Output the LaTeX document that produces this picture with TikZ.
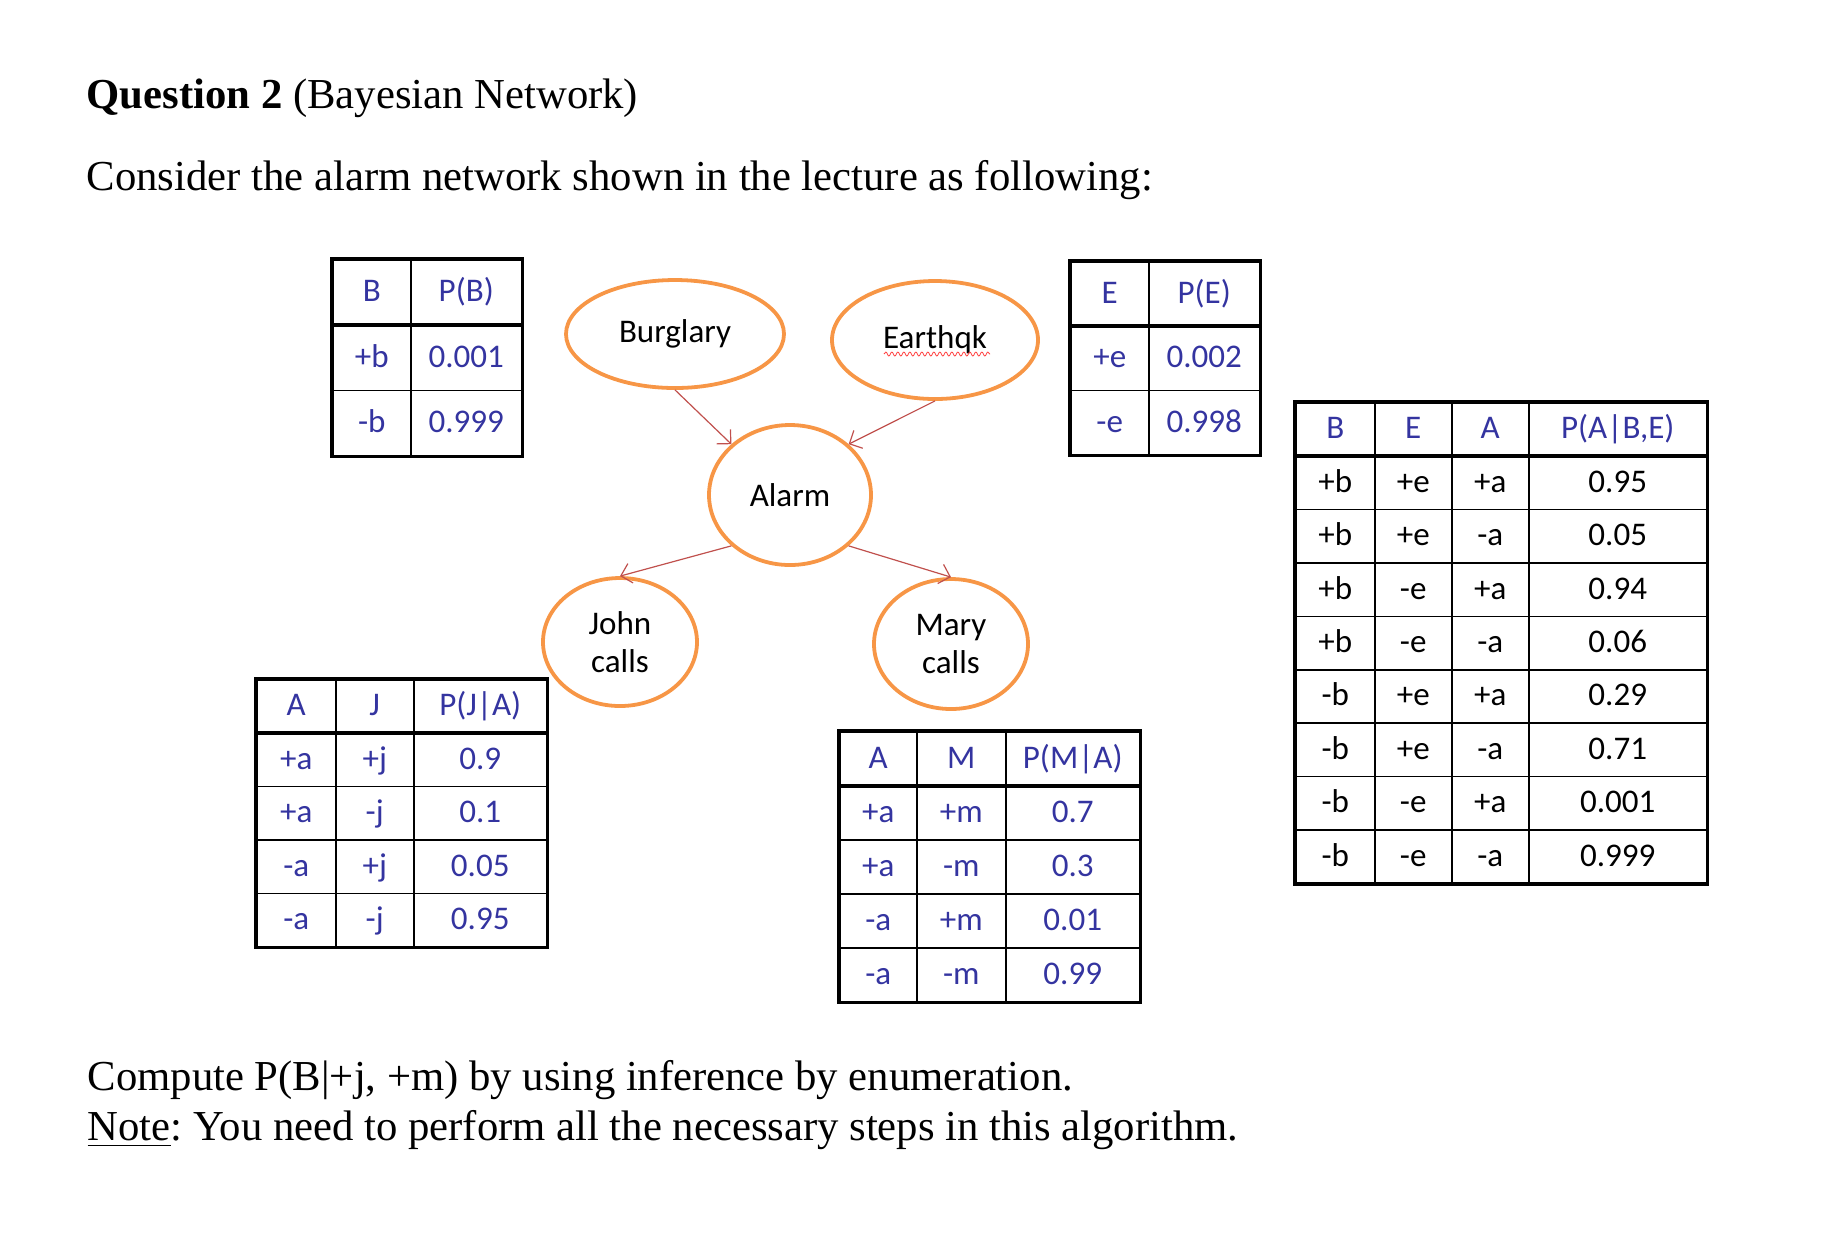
\documentclass[tikz,border=0pt]{standalone}
\usepackage{fontspec}
\setmainfont{Liberation Serif}
\newfontfamily\cellfont{Carlito}
\usetikzlibrary{matrix,shapes.geometric,arrows.meta,decorations.pathmorphing}

\definecolor{cptblue}{RGB}{52,52,160}
\definecolor{varorange}{RGB}{247,150,70}
\definecolor{depred}{RGB}{192,80,77}

\tikzset{
  cpt/.style={matrix of nodes,anchor=north west,inner sep=0pt,outer sep=0pt,
    column sep=-0.15mm,row sep=-0.15mm,
    nodes={draw,line width=0.15mm,inner sep=0pt,outer sep=0pt,minimum height=#1,
      text height=2.4mm,text depth=0.5mm,text=cptblue,
      font=\cellfont\fontsize{9.4}{11}\selectfont}},
  border/.style={line width=0.35mm},
  var/.style={ellipse,draw=varorange,line width=0.38mm,align=center,inner sep=0pt,
    font=\cellfont\fontsize{9.4}{11}\selectfont},
  dep/.style={draw=depred,line width=0.12mm,-{Straight Barb[length=1mm,width=2mm]}},
  spellwave/.style={draw=red!75,line width=0.08mm,decorate,
    decoration={snake,amplitude=0.2mm,segment length=0.6mm}},
  prose/.style={anchor=base west,inner sep=0pt,font=\fontsize{12.15}{14}\selectfont\frenchspacing}
}

\begin{document}
\begin{tikzpicture}[x=0.1mm,y=-0.1mm]
\useasboundingbox (0,0) rectangle (1822,1256);

\node[prose] (title) at (86,108) {\textbf{Question 2} (Bayesian Network)};
\node[prose] (intro) at (86,190) {Consider the alarm network shown in the lecture as following:};

% network
\node[var,minimum width=21.8mm,minimum height=10.8mm] (burglary) at (675,334) {Burglary};
\node[var,minimum width=20.6mm,minimum height=11.8mm] (earthqk) at (935,340) {Earthqk};
\node[var,minimum width=16.2mm,minimum height=14mm] (alarm) at (790,495) {Alarm};
\node[var,minimum width=15.4mm,minimum height=12.8mm] (john) at (620,642) {John\\calls};
\node[var,minimum width=15.4mm,minimum height=13mm] (mary) at (951,644) {Mary\\calls};
\draw[spellwave] (884,354) -- (990,354);

\draw[dep] (burglary.south) -- (alarm.north west);
\draw[dep] (earthqk.south) -- (alarm.north east);
\draw[dep] (alarm.south west) -- (john.north);
\draw[dep] (alarm.south east) -- (mary.north);

% tables
\matrix (bcpt) [cpt=6.53mm,
  column 1/.style={nodes={minimum width=7.8mm}},
  column 2/.style={nodes={minimum width=11.1mm}}] at (332,259) {
  B & P(B) \\
  +b & 0.001 \\
  -b & 0.999 \\
};
\matrix (ecpt) [cpt=6.43mm,
  column 1/.style={nodes={minimum width=7.8mm}},
  column 2/.style={nodes={minimum width=11.1mm}}] at (1070,261) {
  E & P(E) \\
  +e & 0.002 \\
  -e & 0.998 \\
};
\matrix (jcpt) [cpt=5.34mm,
  column 1/.style={nodes={minimum width=7.9mm}},
  column 2/.style={nodes={minimum width=7.8mm}},
  column 3/.style={nodes={minimum width=13.3mm}}] at (256,679) {
  A & J & P(J|A) \\
  +a & +j & 0.9 \\
  +a & -j & 0.1 \\
  -a & +j & 0.05 \\
  -a & -j & 0.95 \\
};
\matrix (mcpt) [cpt=5.4mm,
  column 1/.style={nodes={minimum width=7.7mm}},
  column 2/.style={nodes={minimum width=8.9mm}},
  column 3/.style={nodes={minimum width=13.4mm}}] at (839,731) {
  A & M & P(M|A) \\
  +a & +m & 0.7 \\
  +a & -m & 0.3 \\
  -a & +m & 0.01 \\
  -a & -m & 0.99 \\
};
\matrix (acpt) [cpt=5.34mm,nodes={text=black},
  row 1/.style={nodes={text=cptblue}},
  column 1/.style={nodes={minimum width=7.9mm}},
  column 2/.style={nodes={minimum width=7.7mm}},
  column 3/.style={nodes={minimum width=7.7mm}},
  column 4/.style={nodes={minimum width=17.8mm}}] at (1295,402) {
  B & E & A & P(A|B,E) \\
  +b & +e & +a & 0.95 \\
  +b & +e & -a & 0.05 \\
  +b & -e & +a & 0.94 \\
  +b & -e & -a & 0.06 \\
  -b & +e & +a & 0.29 \\
  -b & +e & -a & 0.71 \\
  -b & -e & +a & 0.001 \\
  -b & -e & -a & 0.999 \\
};

\draw[border] (bcpt.north west) rectangle (bcpt.south east);
\draw[border] (bcpt-1-1.south west) -- (bcpt-1-2.south east);
\draw[border] (ecpt.north west) rectangle (ecpt.south east);
\draw[border] (ecpt-1-1.south west) -- (ecpt-1-2.south east);
\draw[border] (jcpt.north west) rectangle (jcpt.south east);
\draw[border] (jcpt-1-1.south west) -- (jcpt-1-3.south east);
\draw[border] (mcpt.north west) rectangle (mcpt.south east);
\draw[border] (mcpt-1-1.south west) -- (mcpt-1-3.south east);
\draw[border] (acpt.north west) rectangle (acpt.south east);
\draw[border] (acpt-1-1.south west) -- (acpt-1-4.south east);

\node[prose] (task) at (87,1090) {Compute P(B|+j, +m) by using inference by enumeration.};
\node[prose] (note) at (87,1140) {\underline{Note}: You need to perform all the necessary steps in this algorithm.};
\end{tikzpicture}
\end{document}
